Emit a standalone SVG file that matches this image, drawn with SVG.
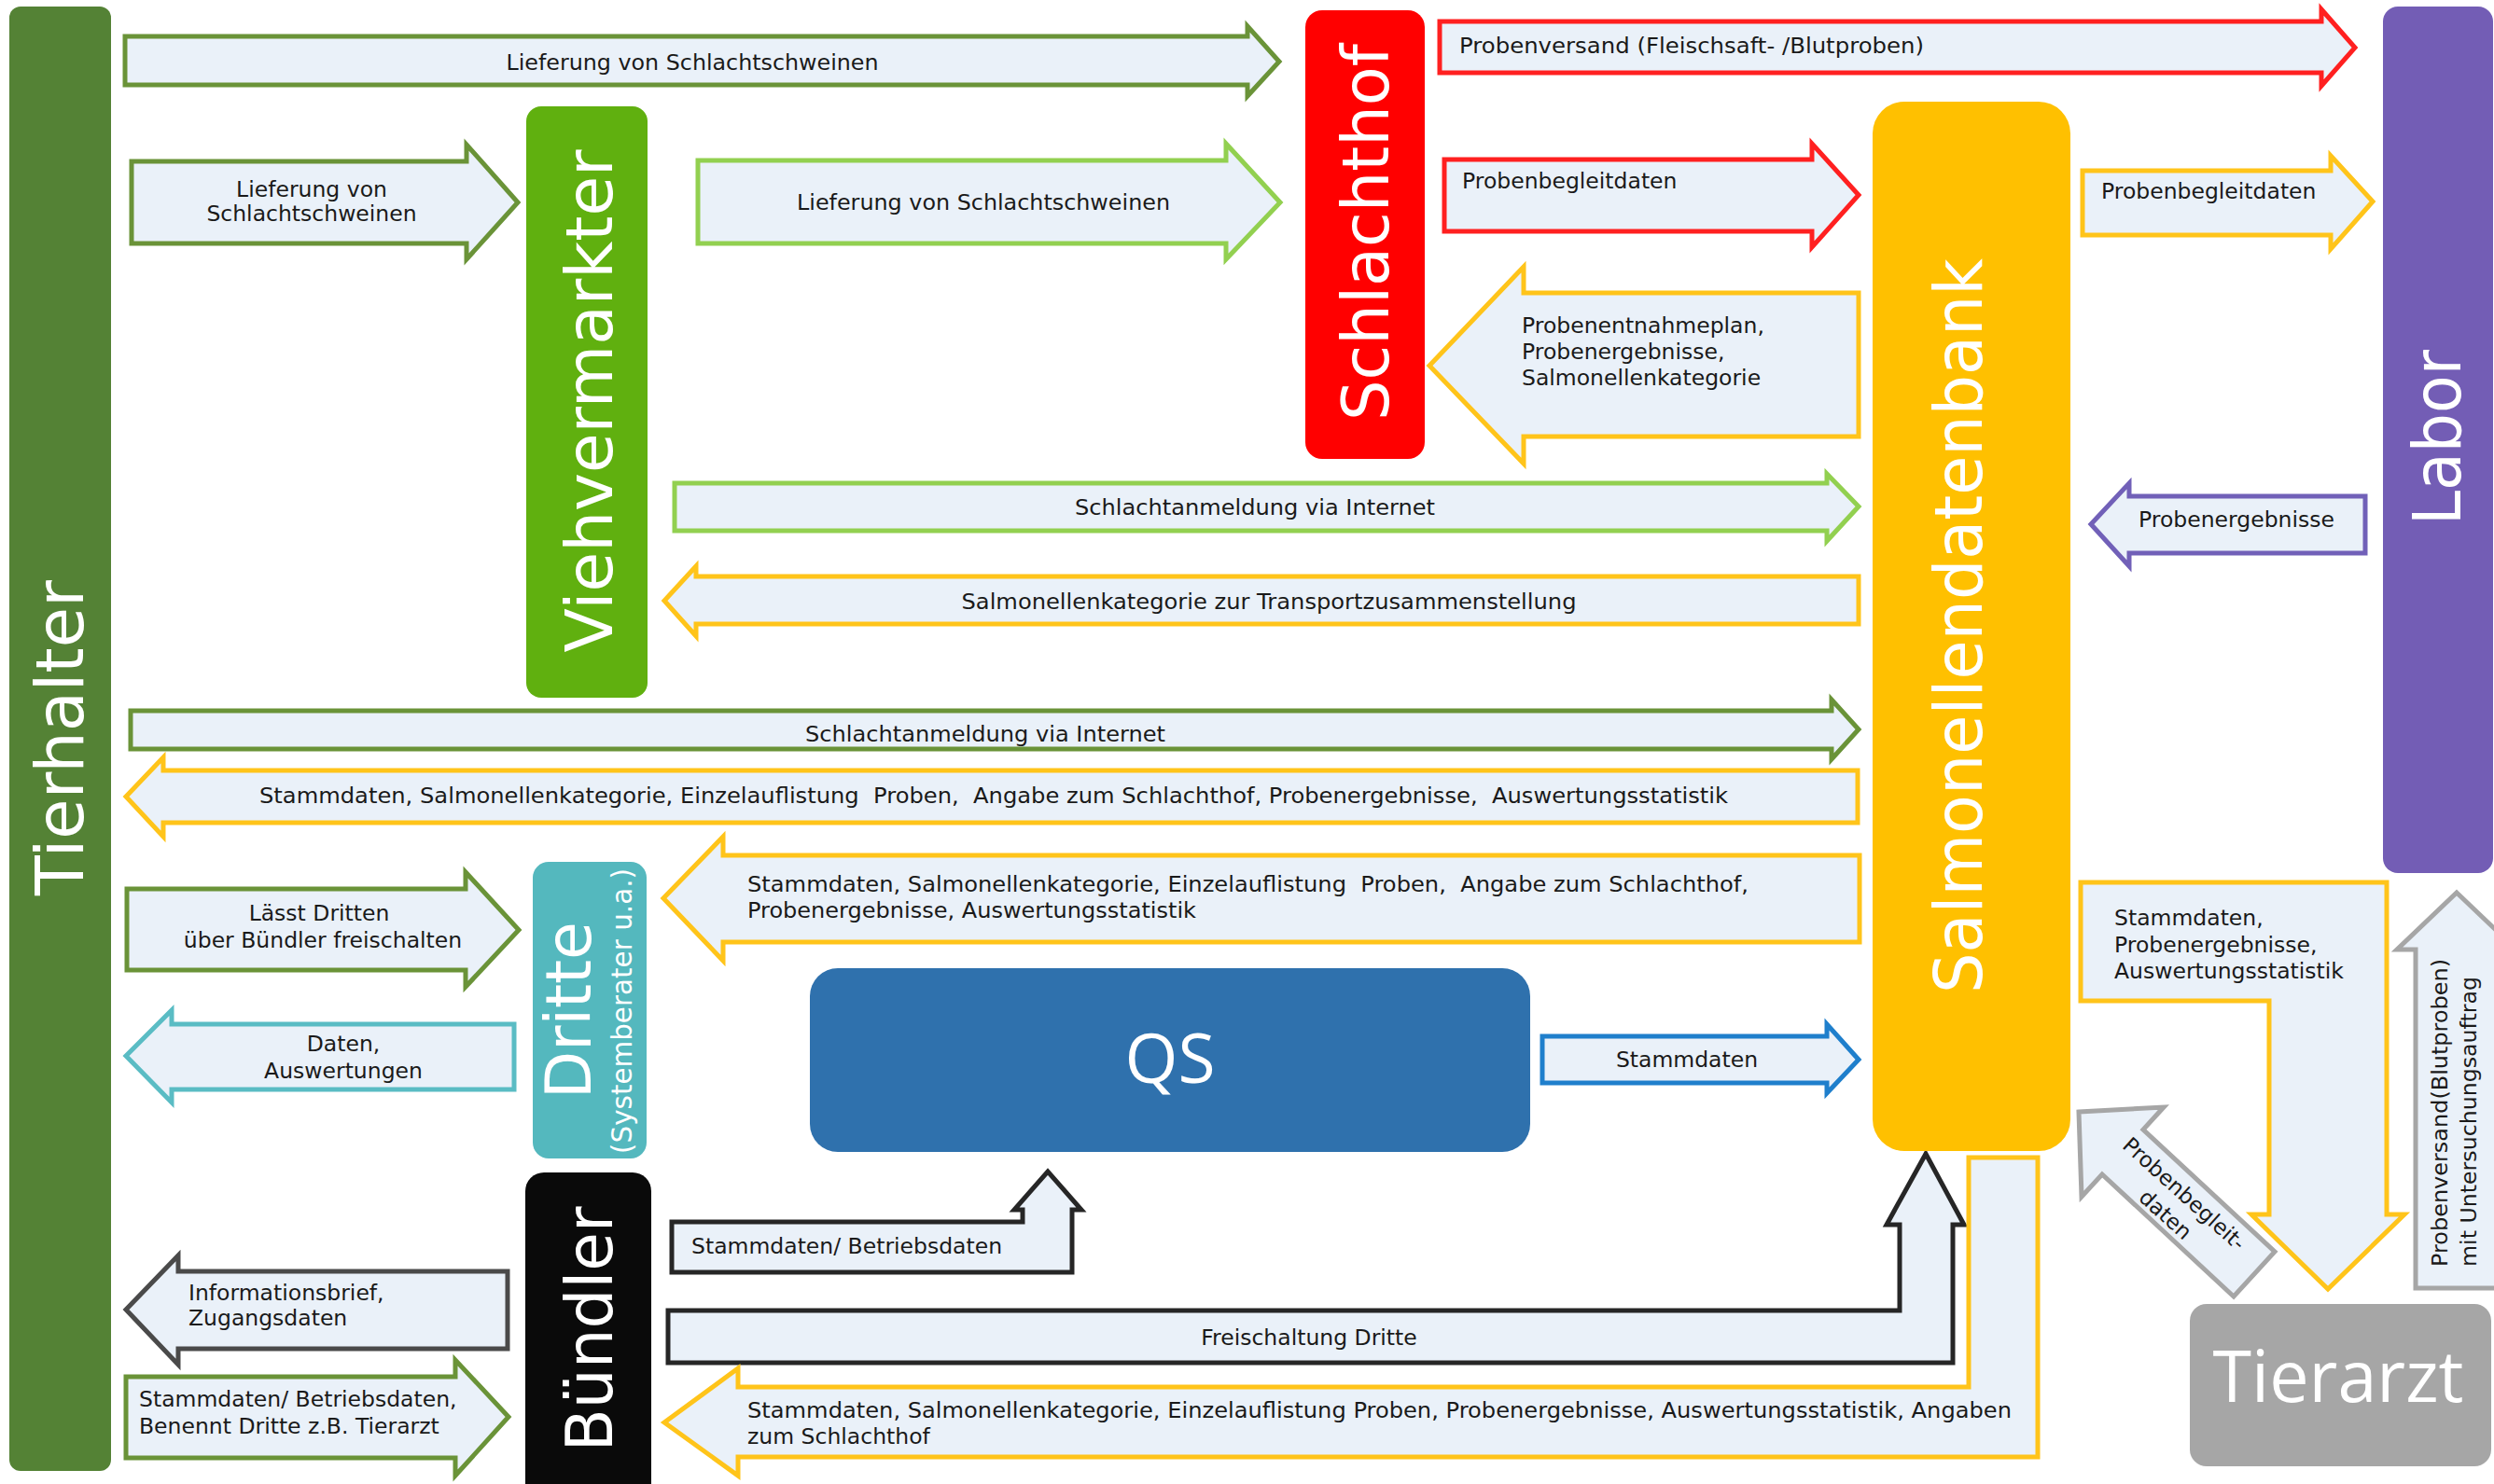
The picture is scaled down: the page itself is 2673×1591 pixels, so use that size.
<svg xmlns="http://www.w3.org/2000/svg" width="2673" height="1591" viewBox="0 0 2673 1591">
<style>
.arr{fill:#EAF1F9;stroke-width:5;stroke-linejoin:miter}
.dg{stroke:#6A9338}
.lg{stroke:#92D050}
.rd{stroke:#FF2020}
.ye{stroke:#FFC41A}
.pu{stroke:#7160B8}
.te{stroke:#5ABCC4}
.bl{stroke:#1F7FCC}
.bk{stroke:#262626}
.dk{stroke:#4A4A4A}
.gr{stroke:#A6A6A6}
.lbl{font-family:"DejaVu Sans","Liberation Sans",sans-serif;font-size:23.5px;fill:#1A1A1A}
.nt{font-family:"DejaVu Sans","Liberation Sans",sans-serif;fill:#FFFFFF}
.nq{font-family:"Open Sans","Liberation Sans",sans-serif;fill:#FFFFFF}
</style>
<rect width="2673" height="1591" fill="#FFFFFF"/>

<g id="connectors">
  <polygon class="arr dg" points="134,39 1337,39 1337,28 1371,66 1337,103 1337,91 134,91"/>
  <text class="lbl" x="742" y="75" text-anchor="middle" textLength="399" lengthAdjust="spacingAndGlyphs">Lieferung von Schlachtschweinen</text>

  <polygon class="arr dg" points="141,173 500,173 500,155 555,217 500,278 500,261 141,261"/>
  <text class="lbl" text-anchor="middle"><tspan x="334" y="211">Lieferung von</tspan><tspan x="334" y="237">Schlachtschweinen</tspan></text>

  <polygon class="arr lg" points="748,172 1314,172 1314,154 1372,217 1314,278 1314,261 748,261"/>
  <text class="lbl" x="1054" y="225" text-anchor="middle" textLength="400" lengthAdjust="spacingAndGlyphs">Lieferung von Schlachtschweinen</text>

  <polygon class="arr rd" points="1543,23 2488,23 2488,10 2524,51 2488,92 2488,78 1543,78"/>
  <text class="lbl" x="1564" y="57" textLength="498" lengthAdjust="spacingAndGlyphs">Probenversand (Fleischsaft- /Blutproben)</text>

  <polygon class="arr rd" points="1548,171 1942,171 1942,154 1992,209 1942,265 1942,248 1548,248"/>
  <text class="lbl" x="1567" y="202">Probenbegleitdaten</text>

  <polygon class="arr ye" points="2232,183 2498,183 2498,167 2543,216 2498,267 2498,252 2232,252"/>
  <text class="lbl" x="2252" y="213">Probenbegleitdaten</text>

  <polygon class="arr ye" points="1992,314 1633,314 1633,286 1532,392 1633,497 1633,468 1992,468"/>
  <text class="lbl"><tspan x="1631" y="357">Probenentnahmeplan,</tspan><tspan x="1631" y="385">Probenergebnisse,</tspan><tspan x="1631" y="413">Salmonellenkategorie</tspan></text>

  <polygon class="arr lg" points="723,518 1958,518 1958,508 1992,543 1958,580 1958,569 723,569"/>
  <text class="lbl" x="1345" y="552" text-anchor="middle" textLength="386" lengthAdjust="spacingAndGlyphs">Schlachtanmeldung via Internet</text>

  <polygon class="arr ye" points="1992,618 746,618 746,607 712,644 746,682 746,669 1992,669"/>
  <text class="lbl" x="1360" y="653" text-anchor="middle" textLength="659" lengthAdjust="spacingAndGlyphs">Salmonellenkategorie zur Transportzusammenstellung</text>

  <polygon class="arr dg" points="140,762 1963,762 1963,750 1992,782 1963,814 1963,803 140,803"/>
  <text class="lbl" x="1056" y="795" text-anchor="middle" textLength="386" lengthAdjust="spacingAndGlyphs">Schlachtanmeldung via Internet</text>

  <polygon class="arr ye" points="1991,826 175,826 175,812 135,854 175,897 175,882 1991,882"/>
  <text class="lbl" x="278" y="861" xml:space="preserve" textLength="1574" lengthAdjust="spacingAndGlyphs">Stammdaten, Salmonellenkategorie, Einzelauflistung  Proben,  Angabe zum Schlachthof, Probenergebnisse,  Auswertungsstatistik</text>

  <polygon class="arr ye" points="1993,917 775,917 775,897 711,963 775,1030 775,1010 1993,1010"/>
  <text class="lbl" xml:space="preserve"><tspan x="801" y="956" textLength="1073" lengthAdjust="spacingAndGlyphs">Stammdaten, Salmonellenkategorie, Einzelauflistung  Proben,  Angabe zum Schlachthof,</tspan><tspan x="801" y="984" textLength="481" lengthAdjust="spacingAndGlyphs">Probenergebnisse, Auswertungsstatistik</tspan></text>

  <polygon class="arr dg" points="136,953 499,953 499,935 556,997 499,1058 499,1040 136,1040"/>
  <text class="lbl" text-anchor="middle"><tspan x="342" y="987">Lässt Dritten</tspan><tspan x="346" y="1016">über Bündler freischalten</tspan></text>

  <polygon class="arr te" points="551,1098 184,1098 184,1083 135,1132 184,1182 184,1168 551,1168"/>
  <text class="lbl" text-anchor="middle"><tspan x="368" y="1127">Daten,</tspan><tspan x="368" y="1156">Auswertungen</tspan></text>

  <polygon class="arr bl" points="1653,1111 1958,1111 1958,1098 1992,1136 1958,1172 1958,1161 1653,1161"/>
  <text class="lbl" x="1808" y="1144" text-anchor="middle">Stammdaten</text>

  <polygon class="arr pu" points="2535,532 2282,532 2282,518 2241,562 2282,607 2282,593 2535,593"/>
  <text class="lbl" x="2397" y="565" text-anchor="middle">Probenergebnisse</text>

  <polygon class="arr bk" points="720,1310 1096,1310 1096,1297 1087,1297 1123,1256 1159,1297 1149,1297 1149,1364 720,1364"/>
  <text class="lbl" x="741" y="1344">Stammdaten/ Betriebsdaten</text>

  <polygon class="arr bk" points="716,1405 2036,1405 2036,1313 2022,1313 2064,1237 2105,1313 2093,1313 2093,1461 716,1461"/>
  <text class="lbl" x="1403" y="1442" text-anchor="middle">Freischaltung Dritte</text>

  <polygon class="arr ye" points="712,1525 791,1467 791,1487 2110,1487 2110,1241 2184,1241 2184,1562 791,1562 791,1582"/>
  <text class="lbl"><tspan x="801" y="1520" textLength="1355" lengthAdjust="spacingAndGlyphs">Stammdaten, Salmonellenkategorie, Einzelauflistung Proben, Probenergebnisse, Auswertungsstatistik, Angaben</tspan><tspan x="801" y="1548">zum Schlachthof</tspan></text>

  <polygon class="arr dk" points="544,1363 191,1363 191,1346 135,1404 191,1463 191,1446 544,1446"/>
  <text class="lbl"><tspan x="202" y="1394">Informationsbrief,</tspan><tspan x="202" y="1421">Zugangsdaten</tspan></text>

  <polygon class="arr dg" points="135,1476 488,1476 488,1458 545,1519 488,1582 488,1563 135,1563"/>
  <text class="lbl"><tspan x="149" y="1508">Stammdaten/ Betriebsdaten,</tspan><tspan x="149" y="1537">Benennt Dritte z.B. Tierarzt</tspan></text>

  <polygon class="arr ye" points="2230,946 2558,946 2558,1302 2577,1302 2495,1382 2413,1302 2432,1302 2432,1073 2230,1073"/>
  <text class="lbl"><tspan x="2266" y="992">Stammdaten,</tspan><tspan x="2266" y="1021">Probenergebnisse,</tspan><tspan x="2266" y="1049">Auswertungsstatistik</tspan></text>

  <polygon class="arr gr" points="2633,957 2697,1018 2677,1018 2677,1381 2589,1381 2589,1018 2569,1018"/>
  <text class="lbl" transform="translate(2623,1358) rotate(-90)" x="0" y="0" textLength="330" lengthAdjust="spacingAndGlyphs">Probenversand(Blutproben)</text>
  <text class="lbl" transform="translate(2654,1358) rotate(-90)" x="0" y="0" textLength="311" lengthAdjust="spacingAndGlyphs">mit Untersuchungsauftrag</text>

  <polygon class="arr gr" points="2228,1192 2319,1187 2297,1211 2438,1342 2394,1390 2253,1259 2231,1283"/>
  <text class="lbl" transform="translate(2331,1291) rotate(42)" text-anchor="middle" style="font-size:23px"><tspan x="0" y="-7">Probenbegleit-</tspan><tspan x="0" y="23">daten</tspan></text>
</g>

<g id="node-tierhalter">
  <rect x="10" y="7" width="109" height="1570" rx="12" fill="#548235"/>
  <text class="nt" transform="translate(89,791) rotate(-90)" text-anchor="middle" font-size="72" textLength="338" lengthAdjust="spacingAndGlyphs">Tierhalter</text>
</g>
<g id="node-viehvermarkter">
  <rect x="564" y="114" width="130" height="634" rx="16" fill="#60B00F"/>
  <text class="nt" transform="translate(656,430) rotate(-90)" text-anchor="middle" font-size="70" textLength="539" lengthAdjust="spacingAndGlyphs">Viehvermarkter</text>
</g>
<g id="node-schlachthof">
  <rect x="1399" y="11" width="128" height="481" rx="18" fill="#FF0000"/>
  <text class="nt" transform="translate(1488,249) rotate(-90)" text-anchor="middle" font-size="70" textLength="404" lengthAdjust="spacingAndGlyphs">Schlachthof</text>
</g>
<g id="node-salmonellendatenbank">
  <rect x="2007" y="109" width="212" height="1125" rx="34" fill="#FFC000"/>
  <text class="nt" transform="translate(2124,671) rotate(-90)" text-anchor="middle" font-size="72" textLength="788" lengthAdjust="spacingAndGlyphs">Salmonellendatenbank</text>
</g>
<g id="node-labor">
  <rect x="2554" y="7" width="118" height="929" rx="16" fill="#735DB5"/>
  <text class="nt" transform="translate(2637,469) rotate(-90)" text-anchor="middle" font-size="72" textLength="188" lengthAdjust="spacingAndGlyphs">Labor</text>
</g>
<g id="node-dritte">
  <rect x="571" y="924" width="122" height="318" rx="17" fill="#54B8BE"/>
  <text class="nt" transform="translate(633,1083) rotate(-90)" text-anchor="middle" font-size="67" textLength="190" lengthAdjust="spacingAndGlyphs">Dritte</text>
  <text class="nt" transform="translate(677,1084) rotate(-90)" text-anchor="middle" font-size="30" textLength="306" lengthAdjust="spacingAndGlyphs">(Systemberater u.a.)</text>
</g>
<g id="node-buendler">
  <rect x="563" y="1257" width="135" height="360" rx="20" fill="#0A0A0A"/>
  <text class="nt" transform="translate(656,1425) rotate(-90)" text-anchor="middle" font-size="70" textLength="263" lengthAdjust="spacingAndGlyphs">Bündler</text>
</g>
<g id="node-qs">
  <rect x="868" y="1038" width="772" height="197" rx="30" fill="#2F71AD"/>
  <text class="nq" x="1254" y="1161" text-anchor="middle" font-size="74" textLength="97" lengthAdjust="spacingAndGlyphs">QS</text>
</g>
<g id="node-tierarzt">
  <rect x="2347" y="1398" width="323" height="174" rx="18" fill="#A6A6A6"/>
  <text class="nq" x="2506" y="1503" text-anchor="middle" font-size="76" textLength="269" lengthAdjust="spacingAndGlyphs">Tierarzt</text>
</g>
</svg>
